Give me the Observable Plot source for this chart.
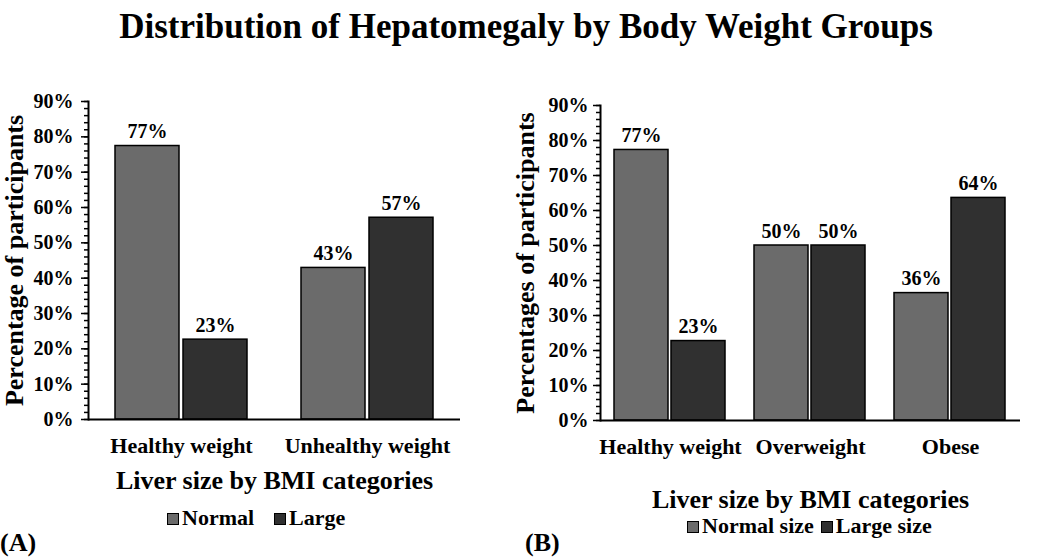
<!DOCTYPE html>
<html>
<head>
<meta charset="utf-8">
<script src="https://cdn.jsdelivr.net/npm/d3@7"></script>
<script src="https://cdn.jsdelivr.net/npm/@observablehq/plot@0.6"></script>
<style>
  body { margin: 0; background: #fff; }
  #wrap { position: relative; width: 1052px; height: 559px; background: #fff; overflow: hidden;
          font-family: "Liberation Serif", "Times New Roman", serif; font-weight: bold; color: #000; }
  .abs { position: absolute; white-space: nowrap; line-height: 1; }
  #title { left: 0; width: 1052px; text-align: center; top: 9px; font-size: 35px; }
  .panel { position: absolute; top: 50px; }
  .legend { font-size: 22px; }
  .sw { display: inline-block; width: 10px; height: 10px; border: 1.5px solid #000; vertical-align: baseline; margin-right: 3px; }
  .tag { font-size: 26px; top: 530px; }
  g[aria-label="y-axis label"] text, g[aria-label="fx-axis label"] text { font-size: 26px; }
</style>
</head>
<body>
<div id="wrap">
  <div id="title" class="abs"></div>
  <div id="panelA" class="panel" style="left:0px"></div>
  <div id="panelB" class="panel" style="left:500px"></div>
  <div id="legendA" class="abs legend" style="left:167px; top:507px"></div>
  <div id="legendB" class="abs legend" style="left:687px; top:515px"></div>
  <div class="abs tag" style="left:0px">(A)</div>
  <div class="abs tag" style="left:525px">(B)</div>
</div>
<script>
const chartTitle = "Distribution of Hepatomegaly by Body Weight Groups";

// Panel A
const categoriesA = ["Healthy weight", "Unhealthy weight"];
const seriesA = ["Normal", "Large"];
const normalA = [77.4, 42.9];
const largeA = [22.6, 57.1];
const yLabelA = "Percentage of participants";

// Panel B
const categoriesB = ["Healthy weight", "Overweight", "Obese"];
const seriesB = ["Normal size", "Large size"];
const normalB = [77.3, 50.0, 36.4];
const largeB = [22.7, 50.0, 63.6];
const yLabelB = "Percentages of participants";

const xLabel = "Liver size by BMI categories";
const yTicks = [0, 10, 20, 30, 40, 50, 60, 70, 80, 90];
const yMinorTicks = d3.range(0, 91, 2);
const colors = ["#6b6b6b", "#303030"];
const fontFamily = "'Liberation Serif', 'Times New Roman', serif";

document.getElementById("title").textContent = chartTitle;

function panel(o) {
  const data = [];
  o.categories.forEach((c, i) => o.series.forEach((s, j) => data.push({category: c, series: s, value: o.values[j][i]})));
  return Plot.plot({
    width: o.width, height: o.height,
    marginLeft: o.marginLeft, marginRight: o.marginRight, marginTop: o.marginTop, marginBottom: o.marginBottom,
    style: {fontFamily, fontWeight: "bold", fontSize: "20px", color: "#000", background: "transparent", overflow: "visible"},
    fx: {domain: o.categories, padding: 0},
    x: {domain: o.series, paddingInner: o.paddingInner, paddingOuter: o.paddingOuter, axis: null},
    y: {domain: [0, 90]},
    color: {domain: o.series, range: colors},
    marks: [
      Plot.barY(data, {fx: "category", x: "series", y: "value", fill: "series", stroke: "#000", strokeWidth: 1.5}),
      Plot.text(data, {fx: "category", x: "series", y: "value", text: d => Math.round(d.value) + "%",
        lineAnchor: "bottom", dy: -8, fontSize: 20, fill: "#000"}),
      Plot.axisY({ticks: yMinorTicks, tickSize: 4, tickFormat: () => "", label: null, strokeWidth: 1.5}),
      Plot.axisY({ticks: yTicks, tickSize: 7, tickPadding: o.yTickPadding, tickFormat: d => d + "%",
        label: o.yLabel, labelAnchor: "center", labelArrow: "none", labelOffset: o.yLabelOffset, fontSize: 20, strokeWidth: 1.5}),
      Plot.axisFx({anchor: "bottom", tickSize: 0, tickPadding: 18, fontSize: 22, label: xLabel, labelAnchor: "center", labelArrow: "none", labelOffset: o.fxLabelOffset}),
      Plot.ruleY([0], {strokeWidth: 2, stroke: "#000"}),
      Plot.frame({anchor: "left", facetAnchor: "left", strokeWidth: 2, stroke: "#000"})
    ]
  });
}

document.getElementById("panelA").append(panel({
  categories: categoriesA, series: seriesA, values: [normalA, largeA],
  width: 500, height: 449, marginLeft: 88, marginRight: 40, marginTop: 51, marginBottom: 80,
  paddingInner: 0.058, paddingOuter: 0.386, yTickPadding: 8, yLabel: yLabelA, yLabelOffset: 84, fxLabelOffset: 69
}));

document.getElementById("panelB").append(panel({
  categories: categoriesB, series: seriesB, values: [normalB, largeB],
  width: 552, height: 449, marginLeft: 100, marginRight: 32, marginTop: 55, marginBottom: 79,
  paddingInner: 0.05, paddingOuter: 0.24, yTickPadding: 5, yLabel: yLabelB, yLabelOffset: 85, fxLabelOffset: 87
}));

function legend(el, series, gap) {
  series.forEach((s, i) => {
    const item = document.createElement("span");
    item.style.marginRight = i < series.length - 1 ? gap + "px" : "0";
    const sw = document.createElement("span");
    sw.className = "sw";
    sw.style.background = colors[i];
    item.append(sw, document.createTextNode(s));
    el.append(item);
  });
}
legend(document.getElementById("legendA"), seriesA, 20);
legend(document.getElementById("legendB"), seriesB, 7);
</script>
</body>
</html>
